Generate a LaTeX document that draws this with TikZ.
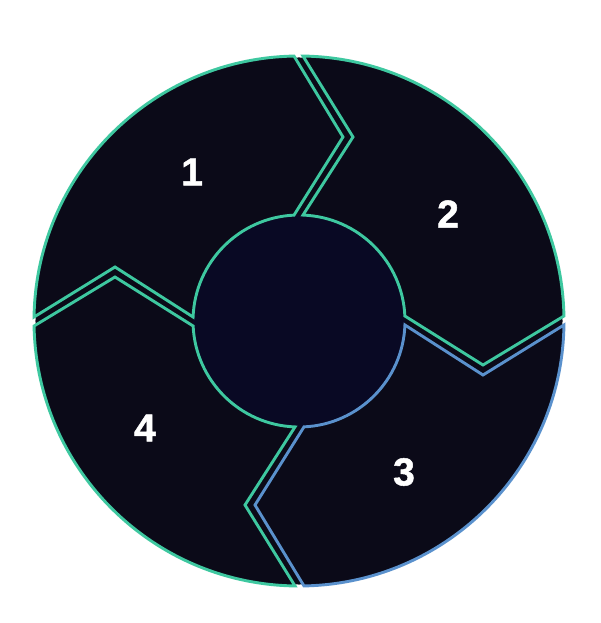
\documentclass[tikz,border=0pt]{standalone}
\usepackage{fontspec}
\setmainfont{Liberation Sans}
\newfontfamily\digitfont{Liberation Sans Bold}[FakeBold=1.3]
\definecolor{bgdark}{RGB}{11,10,24}
\definecolor{hole}{RGB}{9,9,36}
\definecolor{tealline}{RGB}{62,200,160}
\definecolor{blueline}{RGB}{90,145,205}
\tikzset{
  piece/.style={fill=bgdark, line width=2.9pt, line join=miter},
  digit/.style={text=white, font=\digitfont\fontsize{39}{41}\selectfont, inner sep=0pt}
}
\begin{document}
\begin{tikzpicture}[x=1pt,y=1pt]
\useasboundingbox[fill=white] (-299pt,-302pt) rectangle (301pt,321pt);
% dark disc behind the gaps, and the central hole
\fill[bgdark] (0,0) circle[radius=263.5pt];
\fill[hole] (0,0) circle[radius=106pt];
% four pieces, each the same shape turned by a quarter turn
\foreach \k/\col in {0/tealline,1/blueline,2/tealline,3/tealline}{
  \begin{scope}[rotate=-90*\k]
    \filldraw[piece, draw=\col]
      (89.14:265pt) -- (73.64:191.76pt) -- (87.84:106pt)
      arc[start angle=87.84, end angle=2.7, radius=106pt]
      -- (-13.45:189.2pt) -- (1.08:265pt)
      arc[start angle=1.08, end angle=89.14, radius=265pt] -- cycle;
  \end{scope}
}
% labels
\node[digit] (n1) at (-107pt,149pt) {1};
\node[digit] (n2) at (149pt,107pt) {2};
\node[digit] (n3) at (105pt,-151pt) {3};
\node[digit] (n4) at (-154pt,-107pt) {4};
\end{tikzpicture}
\end{document}
